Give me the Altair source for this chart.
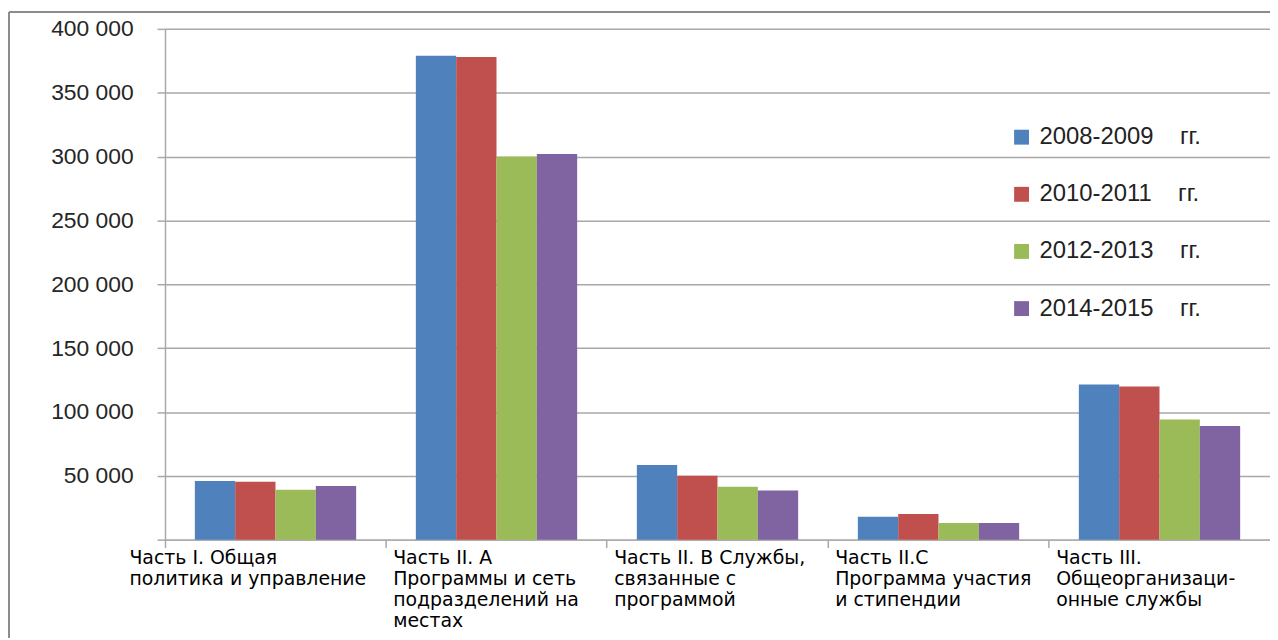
import altair as alt
import pandas as pd

categories = [
    "Часть I. Общая|политика и управление",
    "Часть II. А|Программы и сеть|подразделений на|местах",
    "Часть II. В Службы,|\u00a0связанные с|\u00a0\u00a0программой",
    "Часть II.С|Программа участия|\u00a0и стипендии",
    "Часть III.|Общеорганизаци-|онные службы",
]
series = ["2008-2009", "2010-2011", "2012-2013", "2014-2015"]
v_2008_2009 = [46000, 379000, 58500, 18000, 121500]
v_2010_2011 = [45300, 378000, 50000, 20000, 120000]
v_2012_2013 = [39000, 300000, 41500, 13000, 94000]
v_2014_2015 = [42000, 302000, 38500, 13000, 89000]
colors = ["#4F81BD", "#C0504D", "#9BBB59", "#8064A2"]
y_ticks = [0, 50000, 100000, 150000, 200000, 250000, 300000, 350000, 400000]

rows = []
for s, vals in zip(series, [v_2008_2009, v_2010_2011, v_2012_2013, v_2014_2015]):
    for c, v in zip(categories, vals):
        rows.append({"cat": c, "series": s, "value": v})
df = pd.DataFrame(rows)

GRID = "#a8a8a8"
W, H = 1112, 514

bars = alt.Chart(df).mark_bar().encode(
    x=alt.X(
        "cat:N", sort=categories, title=None,
        scale=alt.Scale(paddingInner=0, paddingOuter=0),
        axis=alt.Axis(
            bandPosition=0, labelAngle=0, labelAlign="left", labelBaseline="top",
            labelExpr="split(datum.label, '|')", labelLineHeight=21,
            labelFont="DejaVu Sans", labelFontSize=19, labelColor="#000000",
            labelOffset={"condition": {"test": "datum.index == 0", "value": -147}, "value": -104},
            labelPadding=1, labelOverlap=False, labelLimit=0, labelFlush=False,
            tickSize=8, tickColor=GRID, tickWidth=1.5, domainColor=GRID, domainWidth=1.5,
            grid=False,
        ),
    ),
    xOffset=alt.XOffset("series:N", sort=series,
                        scale=alt.Scale(paddingInner=0, paddingOuter=0.74)),
    y=alt.Y(
        "value:Q", title=None,
        scale=alt.Scale(domain=[0, 400000], nice=False),
        axis=alt.Axis(
            values=y_ticks,
            labelExpr="datum.value == 0 ? '' : replace(format(datum.value, ','), ',', ' ')",
            labelFont="Liberation Sans", labelFontSize=23, labelColor="#262626",
            labelPadding=24, tickSize=8, tickColor=GRID, tickWidth=1.5,
            domainColor=GRID, domainWidth=1.5, gridColor=GRID, gridWidth=1.5,
        ),
    ),
    color=alt.Color(
        "series:N", sort=series,
        scale=alt.Scale(domain=series, range=colors),
        legend=alt.Legend(
            title=None, orient="none", legendX=850, legendY=97,
            symbolType="square", symbolSize=225, symbolStrokeWidth=0, symbolOpacity=1,
            labelFont="Liberation Sans", labelFontSize=24, labelColor="#222222",
            rowPadding=33.5, labelOffset=6, labelLimit=400,
            labelExpr="datum.label + '\u00a0\u00a0\u00a0\u00a0гг.'",
        ),
    ),
)

frame_df = pd.DataFrame({"k": [0]})
left = alt.Chart(frame_df).mark_rule(color="#8c8c8c", strokeWidth=2).encode(
    x=alt.value(-157), y=alt.value(-17), y2=alt.value(620)
)
top = alt.Chart(frame_df).mark_rule(color="#8c8c8c", strokeWidth=2).encode(
    x=alt.value(-157), x2=alt.value(W), y=alt.value(-17)
)

chart = alt.layer(bars, left, top).properties(
    width=W, height=H,
    padding={"left": 158, "top": 19, "right": 0, "bottom": 97},
    autosize=alt.AutoSizeParams(type="none"),
).configure_view(strokeWidth=0)

chart.save("out.html", embed_options={"renderer": "svg", "actions": False})
